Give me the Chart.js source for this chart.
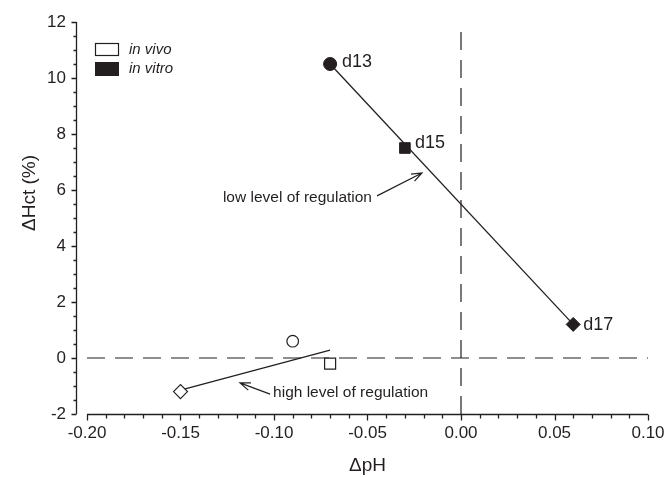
<!DOCTYPE html>
<html>
<head>
<meta charset="utf-8">
<script src="https://cdn.jsdelivr.net/npm/chart.js@4.4.0/dist/chart.umd.min.js"></script>
<style>
  html, body { margin: 0; padding: 0; background: #fff; }
  #wrap { width: 668px; height: 477px; }
</style>
</head>
<body>
<div id="wrap"><canvas id="c" width="668" height="477"></canvas></div>
<script>
// Change in blood pH against change in haematocrit, per sampling day
const dayLabels = ['d13', 'd15', 'd17'];
const vitroPH  = [-0.07, -0.03, 0.06];
const vitroHct = [10.5, 7.5, 1.2];
const vivoPH   = [-0.15, -0.09, -0.07];
const vivoHct  = [-1.2, 0.6, -0.2];

// Fitted lines (end points)
const vitroFitPH  = [-0.07, 0.06];
const vitroFitHct = [10.5, 1.2];
const vivoFitPH   = [-0.15, -0.07];
const vivoFitHct  = [-1.15, 0.28];

// Axis ticks
const xTicks = [-0.20, -0.15, -0.10, -0.05, 0.00, 0.05, 0.10];
const xTickLabels = ['-0.20', '-0.15', '-0.10', '-0.05', '0.00', '0.05', '0.10'];
const yTicks = [-2, 0, 2, 4, 6, 8, 10, 12];
const yTickLabels = ['-2', '0', '2', '4', '6', '8', '10', '12'];

const seriesNames = ['in vivo', 'in vitro'];
const xTitle = '\u0394pH';
const yTitle = '\u0394Hct (%)';

const FONT = "'Liberation Sans', Arial, Helvetica, sans-serif";
const INK = '#231f20';

const toPoints = (xsArr, ysArr) => xsArr.map((v, i) => ({ x: v, y: ysArr[i] }));

// Notes with arrows, placed in data coordinates
const notes = [
  { text: 'low level of regulation', at: [-0.0476, 5.71], align: 'right',
    arrow: [[-0.0449, 5.79], [-0.0209, 6.61]] },
  { text: 'high level of regulation', at: [-0.1005, -1.25], align: 'left',
    arrow: [[-0.1021, -1.29], [-0.1182, -0.89]] }
];
const dayLabelOffsets = [[12, -2], [10, -5], [10, 1]];

function arrowHead(ctx, x0, y0, x1, y1) {
  const ang = Math.atan2(y1 - y0, x1 - x0);
  const len = 11, spread = 0.36;
  ctx.moveTo(x1 - len * Math.cos(ang - spread), y1 - len * Math.sin(ang - spread));
  ctx.lineTo(x1, y1);
  ctx.lineTo(x1 - len * Math.cos(ang + spread), y1 - len * Math.sin(ang + spread));
}

const overlay = {
  id: 'overlay',
  afterDraw(chart) {
    const { ctx, chartArea: ca, scales: { x, y } } = chart;
    ctx.save();
    ctx.strokeStyle = INK;
    ctx.fillStyle = INK;
    ctx.lineWidth = 1.3;

    // y axis, set off to the left of the plot area
    const ax = ca.left - 10.5;
    ctx.beginPath();
    ctx.moveTo(ax, y.getPixelForValue(yTicks[yTicks.length - 1]));
    ctx.lineTo(ax, y.getPixelForValue(yTicks[0]));
    for (let k = 0; k <= 28; k++) {
      const v = yTicks[0] + k * 0.5;
      const p = Math.round(y.getPixelForValue(v)) + 0.5;
      const len = (k % 4 === 0) ? 5 : 3;
      ctx.moveTo(ax - len, p);
      ctx.lineTo(ax, p);
    }
    ctx.stroke();

    // x axis along the bottom
    const ay = Math.round(ca.bottom) + 0.5;
    ctx.beginPath();
    ctx.moveTo(x.getPixelForValue(xTicks[0]), ay);
    ctx.lineTo(x.getPixelForValue(xTicks[xTicks.length - 1]), ay);
    for (let k = 0; k <= 30; k++) {
      const v = xTicks[0] + k * 0.01;
      const p = Math.round(x.getPixelForValue(v)) + 0.5;
      const len = (k % 5 === 0) ? 6 : 4;
      ctx.moveTo(p, ay);
      ctx.lineTo(p, ay + len);
    }
    ctx.stroke();

    // y axis title
    ctx.save();
    ctx.font = '19px ' + FONT;
    ctx.textAlign = 'center';
    ctx.textBaseline = 'middle';
    ctx.translate(30, 193);
    ctx.rotate(-Math.PI / 2);
    ctx.fillText(yTitle, 0, 0);
    ctx.restore();

    // legend
    const lx = ca.left + 8, ly = ca.top + 21;
    ctx.lineWidth = 1.2;
    ctx.strokeRect(lx + 0.5, ly + 0.5, 23, 12);
    ctx.fillRect(lx, ly + 19, 24, 14);
    ctx.font = 'italic 15px ' + FONT;
    ctx.textAlign = 'left';
    ctx.textBaseline = 'middle';
    ctx.fillText(seriesNames[0], lx + 34, ly + 7);
    ctx.fillText(seriesNames[1], lx + 34, ly + 26);

    // day labels beside the in vitro points
    ctx.font = '18px ' + FONT;
    const meta = chart.getDatasetMeta(0);
    meta.data.forEach((pt, i) => {
      const [dx, dy] = dayLabelOffsets[i];
      ctx.fillText(dayLabels[i], pt.x + dx, pt.y + dy);
    });

    // notes with arrows
    ctx.font = '15.5px ' + FONT;
    ctx.lineWidth = 1.2;
    notes.forEach(n => {
      ctx.textAlign = n.align;
      ctx.fillText(n.text, x.getPixelForValue(n.at[0]), y.getPixelForValue(n.at[1]));
      const x0 = x.getPixelForValue(n.arrow[0][0]), y0 = y.getPixelForValue(n.arrow[0][1]);
      const x1 = x.getPixelForValue(n.arrow[1][0]), y1 = y.getPixelForValue(n.arrow[1][1]);
      ctx.beginPath();
      ctx.moveTo(x0, y0);
      ctx.lineTo(x1, y1);
      arrowHead(ctx, x0, y0, x1, y1);
      ctx.stroke();
    });
    ctx.restore();
  }
};

new Chart(document.getElementById('c'), {
  type: 'scatter',
  data: {
    datasets: [
      {
        label: seriesNames[1],
        data: toPoints(vitroPH, vitroHct),
        pointStyle: ['circle', 'rect', 'rectRot'],
        pointRadius: [6.5, 7.5, 7],
        backgroundColor: INK,
        borderColor: INK,
        borderWidth: 1,
        order: 0
      },
      {
        label: seriesNames[0],
        data: toPoints(vivoPH, vivoHct),
        pointStyle: ['rectRot', 'circle', 'rect'],
        pointRadius: [7, 5.8, 7.8],
        backgroundColor: '#ffffff',
        borderColor: INK,
        borderWidth: 1.2,
        order: 0
      },
      {
        type: 'line',
        data: toPoints(vitroFitPH, vitroFitHct),
        borderColor: INK,
        borderWidth: 1.3,
        pointRadius: 0,
        fill: false,
        order: 1
      },
      {
        type: 'line',
        data: toPoints(vivoFitPH, vivoFitHct),
        borderColor: INK,
        borderWidth: 1.3,
        pointRadius: 0,
        fill: false,
        order: 1
      },
      {
        type: 'line',
        data: [{ x: xTicks[0], y: 0 }, { x: xTicks[xTicks.length - 1], y: 0 }],
        borderColor: INK,
        borderWidth: 1.2,
        borderDash: [18, 10],
        pointRadius: 0,
        fill: false,
        order: 2
      },
      {
        type: 'line',
        data: [{ x: 0, y: yTicks[0] }, { x: 0, y: yTicks[yTicks.length - 1] }],
        borderColor: INK,
        borderWidth: 1.2,
        borderDash: [18, 10],
        pointRadius: 0,
        fill: false,
        order: 2
      }
    ]
  },
  options: {
    responsive: false,
    animation: false,
    events: [],
    layout: { padding: { top: 22, right: 20, left: 0, bottom: 0 } },
    plugins: { legend: { display: false }, tooltip: { enabled: false } },
    scales: {
      x: {
        type: 'linear',
        min: xTicks[0],
        max: xTicks[xTicks.length - 1],
        afterBuildTicks: s => { s.ticks = xTicks.map(v => ({ value: v })); },
        afterFit: s => { s.height = 63; s.paddingLeft = 0; s.paddingRight = 0; },
        grid: { display: false, drawTicks: false },
        border: { display: false },
        ticks: {
          padding: 9,
          color: INK,
          font: { family: FONT, size: 17 },
          maxRotation: 0,
          autoSkip: false,
          callback: (v, i) => xTickLabels[i]
        },
        title: {
          display: true,
          text: xTitle,
          color: INK,
          font: { family: FONT, size: 19 },
          padding: { top: 0, bottom: 0 }
        }
      },
      y: {
        type: 'linear',
        min: yTicks[0],
        max: yTicks[yTicks.length - 1],
        afterBuildTicks: s => { s.ticks = yTicks.map(v => ({ value: v })); },
        afterFit: s => { s.width = 87; s.paddingTop = 0; s.paddingBottom = 0; },
        grid: { display: false, drawTicks: false },
        border: { display: false },
        ticks: {
          padding: 21,
          color: INK,
          font: { family: FONT, size: 17 },
          autoSkip: false,
          callback: (v, i) => yTickLabels[i]
        }
      }
    }
  },
  plugins: [overlay]
});
</script>
</body>
</html>
